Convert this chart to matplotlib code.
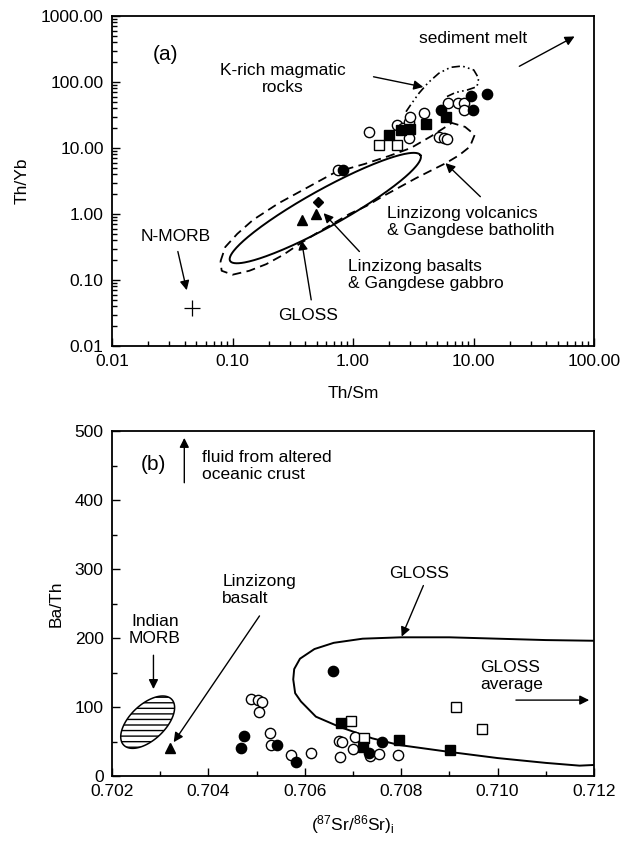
import numpy as np
import matplotlib
matplotlib.use('Agg')
import matplotlib.pyplot as plt
from matplotlib.patches import Polygon
from matplotlib.ticker import LogLocator, MultipleLocator, FuncFormatter, NullFormatter, FixedLocator

plt.rcParams['font.family'] = ['Liberation Sans', 'DejaVu Sans']
plt.rcParams['mathtext.fontset'] = 'custom'
plt.rcParams['mathtext.rm'] = 'Liberation Sans'
plt.rcParams['mathtext.default'] = 'regular'

# ---------------- Panel (a) data: Th/Sm vs Th/Yb ----------------
a_fcirc_x = [13.0, 9.5, 9.9, 5.4, 0.83]
a_fcirc_y = [65, 62, 37.7, 37.7, 4.6]
a_ocirc_x = [1.36, 2.3, 2.6, 2.9, 3.0, 3.9, 6.2, 7.5, 8.3, 8.4, 5.2, 5.7, 6.0, 2.9, 0.75]
a_ocirc_y = [17.7, 22, 20, 25, 30, 34, 48, 47.5, 47.5, 37, 14.8, 14, 13.5, 14.3, 4.6]
a_fsq_x = [2.0, 2.5, 3.0, 4.0, 5.9]
a_fsq_y = [16, 19, 19.5, 23, 30]
a_osq_x = [1.65, 2.33]
a_osq_y = [11.1, 11.1]
a_tri_x = [0.374, 0.49]
a_tri_y = [0.82, 1.0]
a_dia_x = [0.515]
a_dia_y = [1.5]
nmorb_x = [0.046]
nmorb_y = [0.038]

# GLOSS field (log10 units): centre, conjugate half-axes
gloss_a_center = (-0.23, 0.09)
gloss_a_A = (0.79, 0.80)
gloss_a_B = (-0.075, 0.245)

# Linzizong volcanics & Gangdese batholith envelope (log10 Th/Sm, log10 Th/Yb)
lv_logx = [-1.10, -1.06, -0.96, -0.83, -0.62, -0.40, -0.15, 0.10, 0.30, 0.48, 0.65, 0.82, 0.93, 1.01,
           0.97, 0.88, 0.77, 0.66, 0.52, 0.38, 0.24, 0.11, -0.03, -0.31, -0.45, -0.58, -0.72, -0.86,
           -1.00, -1.09, -1.10]
lv_logy = [-0.72, -0.50, -0.30, -0.09, 0.16, 0.38, 0.63, 0.76, 0.88, 1.00, 1.18, 1.38, 1.32, 1.20,
           1.02, 0.89, 0.77, 0.67, 0.54, 0.40, 0.26, 0.12, 0.00, -0.30, -0.46, -0.62, -0.76, -0.86,
           -0.92, -0.86, -0.72]

# K-rich magmatic rocks envelope
kr_logx = [0.44, 0.478, 0.547, 0.624, 0.712, 0.809, 0.905, 1.002, 1.043, 1.029, 0.95, 0.85, 0.78]
kr_logy = [1.55, 1.652, 1.829, 1.99, 2.132, 2.222, 2.242, 2.182, 2.056, 1.929, 1.88, 1.84, 1.78]

# ---------------- Panel (b) data: 87Sr/86Sr vs Ba/Th ----------------
b_fcirc_x = [0.70658, 0.70474, 0.70468, 0.70542, 0.70582, 0.70761, 0.70733]
b_fcirc_y = [152, 58, 40, 45, 20.7, 49.5, 33]
b_fsq_x = [0.70675, 0.70795, 0.70902, 0.70720]
b_fsq_y = [77, 52, 37, 42]
b_osq_x = [0.70696, 0.70723, 0.70913, 0.70968]
b_osq_y = [80, 54.6, 100, 68.8]
b_ocirc_x = [0.70489, 0.70503, 0.70512, 0.70505, 0.70527, 0.70530, 0.70572, 0.70613, 0.70671,
             0.70677, 0.70673, 0.70704, 0.70700, 0.70735, 0.70754, 0.70794]
b_ocirc_y = [112, 110, 107, 93, 62.8, 45, 30.4, 33, 51, 49.7, 28, 57, 38.6, 29, 32, 30]
b_tri_x = [0.70320]
b_tri_y = [40]

# GLOSS field in (b)
gb_x = [0.7120, 0.7110, 0.7100, 0.7090, 0.7080, 0.7072, 0.7066, 0.7062, 0.7059, 0.70578, 0.70576,
        0.70580, 0.70592, 0.70623, 0.70671, 0.7074, 0.70795, 0.70899, 0.7100, 0.7110, 0.7117, 0.7120]
gb_y = [196, 197, 199, 201, 201, 199, 193, 184, 170, 155, 140, 120, 108, 86, 71.5, 54.6, 45, 35,
        26, 19, 15, 16]

# Indian MORB field (centre and conjugate half-axes in data units)
imorb_center = (0.70274, 78)
imorb_A = (0.0005, 33)
imorb_B = (-0.00025, 18.7)

FS = 12.5
fig = plt.figure(figsize=(6.22, 8.43), dpi=100)
W, H = 622, 843
L, R = 112, 594
axA = fig.add_axes([L / W, (H - 346) / H, (R - L) / W, 330 / H])
axB = fig.add_axes([L / W, (H - 776) / H, (R - L) / W, 345 / H])

ms = 7.4
lw_m = 1.0

# ----- panel a -----
ax = axA
ax.set_xscale('log')
ax.set_yscale('log')
ax.set_xlim(0.01, 100)
ax.set_ylim(0.01, 1000)

t = np.linspace(0, 2 * np.pi, 300)
ex = gloss_a_center[0] + gloss_a_A[0] * np.cos(t) + gloss_a_B[0] * np.sin(t)
ey = gloss_a_center[1] + gloss_a_A[1] * np.cos(t) + gloss_a_B[1] * np.sin(t)
ax.plot(10 ** ex, 10 ** ey, color='k', lw=1.4)
ax.plot(10 ** np.array(lv_logx), 10 ** np.array(lv_logy), color='k', lw=1.3, linestyle=(0, (5, 3)))
ax.plot(10 ** np.array(kr_logx), 10 ** np.array(kr_logy), color='k', lw=1.2,
        linestyle=(0, (5, 2, 1, 2, 1, 2)))

ax.plot(a_ocirc_x, a_ocirc_y, 'o', mfc='white', mec='k', mew=lw_m, ms=ms, ls='none')
ax.plot(a_osq_x, a_osq_y, 's', mfc='white', mec='k', mew=lw_m, ms=ms, ls='none')
ax.plot(a_fsq_x, a_fsq_y, 's', mfc='k', mec='k', ms=ms, ls='none')
ax.plot(a_fcirc_x, a_fcirc_y, 'o', mfc='k', mec='k', ms=ms, ls='none')
ax.plot(a_tri_x, a_tri_y, '^', mfc='k', mec='k', ms=ms, ls='none')
ax.plot(a_dia_x, a_dia_y, 'D', mfc='k', mec='k', ms=5.5, ls='none')
ax.plot(nmorb_x, nmorb_y, '+', color='k', ms=11, mew=0.9, ls='none')

ap = dict(arrowstyle='-|>', color='k', lw=1.0, mutation_scale=14, shrinkA=0, shrinkB=0)
ax.text(0.0216, 260, '(a)', fontsize=15, ha='left', va='center')
ax.text(9.9, 460, 'sediment melt', fontsize=FS, ha='center', va='center')
ax.annotate('', xy=(69, 490), xytext=(24, 173), arrowprops=ap)
ax.text(0.26, 112, 'K-rich magmatic\nrocks', fontsize=FS, ha='center', va='center', linespacing=1.15)
ax.annotate('', xy=(3.83, 84), xytext=(1.48, 120), arrowprops=ap)
ax.text(1.92, 0.76, 'Linzizong volcanics\n& Gangdese batholith', fontsize=FS, ha='left', va='center',
        linespacing=1.15)
ax.annotate('', xy=(5.85, 5.9), xytext=(11.4, 1.83), arrowprops=ap)
ax.text(0.906, 0.12, 'Linzizong basalts\n& Gangdese gabbro', fontsize=FS, ha='left', va='center',
        linespacing=1.15)
ax.annotate('', xy=(0.57, 1.03), xytext=(1.13, 0.27), arrowprops=ap)
ax.text(0.42, 0.029, 'GLOSS', fontsize=FS, ha='center', va='center')
ax.annotate('', xy=(0.374, 0.40), xytext=(0.45, 0.05), arrowprops=ap)
ax.text(0.034, 0.45, 'N-MORB', fontsize=FS, ha='center', va='center')
ax.annotate('', xy=(0.0417, 0.07), xytext=(0.0352, 0.27), arrowprops=ap)

ax.xaxis.set_major_locator(FixedLocator([0.01, 0.1, 1, 10, 100]))
ax.yaxis.set_major_locator(FixedLocator([0.01, 0.1, 1, 10, 100, 1000]))
ax.xaxis.set_minor_locator(LogLocator(base=10, subs=np.arange(2, 10)))
ax.yaxis.set_minor_locator(LogLocator(base=10, subs=np.arange(2, 10)))
fmt = FuncFormatter(lambda v, p: '{:.2f}'.format(v))
ax.xaxis.set_major_formatter(fmt)
ax.yaxis.set_major_formatter(fmt)
ax.xaxis.set_minor_formatter(NullFormatter())
ax.yaxis.set_minor_formatter(NullFormatter())
ax.set_xlabel('Th/Sm', fontsize=FS, labelpad=12)
ax.set_ylabel('Th/Yb', fontsize=FS, labelpad=8)

# ----- panel b -----
ax = axB
ax.set_xlim(0.702, 0.712)
ax.set_ylim(0, 500)
ax.plot(gb_x, gb_y, color='k', lw=1.4)
tt = np.linspace(0, 2 * np.pi, 200)
mx = imorb_center[0] + imorb_A[0] * np.cos(tt) + imorb_B[0] * np.sin(tt)
my = imorb_center[1] + imorb_A[1] * np.cos(tt) + imorb_B[1] * np.sin(tt)
ax.add_patch(Polygon(np.column_stack([mx, my]), closed=True, facecolor='none', edgecolor='k',
                     lw=1.1, hatch='---'))

ax.plot(b_ocirc_x, b_ocirc_y, 'o', mfc='white', mec='k', mew=lw_m, ms=ms, ls='none')
ax.plot(b_osq_x, b_osq_y, 's', mfc='white', mec='k', mew=lw_m, ms=ms, ls='none')
ax.plot(b_fsq_x, b_fsq_y, 's', mfc='k', mec='k', ms=ms, ls='none')
ax.plot(b_fcirc_x, b_fcirc_y, 'o', mfc='k', mec='k', ms=ms, ls='none')
ax.plot(b_tri_x, b_tri_y, '^', mfc='k', mec='k', ms=ms, ls='none')

ax.text(0.70285, 452, '(b)', fontsize=15, ha='center', va='center')
ax.annotate('', xy=(0.7035, 490), xytext=(0.7035, 425), arrowprops=ap)
ax.text(0.70387, 449, 'fluid from altered\noceanic crust', fontsize=FS, ha='left', va='center',
        linespacing=1.15)
ax.text(0.70289, 212, 'Indian\nMORB', fontsize=FS, ha='center', va='center', linespacing=1.15)
ax.annotate('', xy=(0.70286, 126), xytext=(0.70286, 175), arrowprops=ap)
ax.text(0.70429, 269, 'Linzizong\nbasalt', fontsize=FS, ha='left', va='center', linespacing=1.15)
ax.annotate('', xy=(0.70328, 49), xytext=(0.70506, 232), arrowprops=ap)
ax.text(0.70838, 294, 'GLOSS', fontsize=FS, ha='center', va='center')
ax.annotate('', xy=(0.70801, 202), xytext=(0.70846, 276), arrowprops=ap)
ax.text(0.70964, 145, 'GLOSS\naverage', fontsize=FS, ha='left', va='center', linespacing=1.15)
ax.annotate('', xy=(0.7119, 110), xytext=(0.71038, 110), arrowprops=ap)

ax.xaxis.set_major_locator(MultipleLocator(0.002))
ax.xaxis.set_minor_locator(MultipleLocator(0.001))
ax.yaxis.set_major_locator(MultipleLocator(100))
ax.yaxis.set_minor_locator(MultipleLocator(50))
ax.xaxis.set_major_formatter(FuncFormatter(lambda v, p: '{:.3f}'.format(v)))
ax.set_xlabel(r'($^{87}$Sr/$^{86}$Sr)$_{i}$', fontsize=FS, labelpad=10)
ax.set_ylabel('Ba/Th', fontsize=FS, labelpad=8)

for ax in (axA, axB):
    for s in ax.spines.values():
        s.set_linewidth(1.3)
    ax.tick_params(which='both', direction='in', top=False, right=False, labelsize=FS, width=1.0)
    ax.tick_params(which='major', length=6, pad=6)
    ax.tick_params(which='minor', length=3.5)

fig.savefig('out.png', dpi=100)
